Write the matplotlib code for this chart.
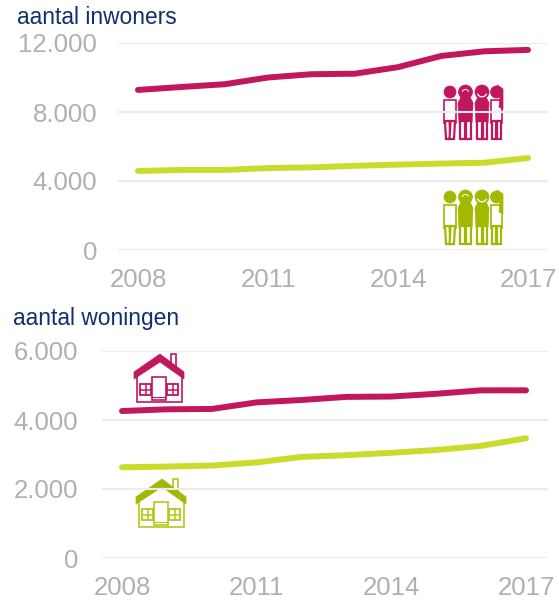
import matplotlib
matplotlib.use("Agg")
import matplotlib.pyplot as plt
from matplotlib.patches import Circle, Polygon, Rectangle, Wedge

plt.rcParams['font.family'] = ['Liberation Sans', 'DejaVu Sans']

W = 559
H = 605
PINK = "#c0175d"
GREEN = "#c9dc2b"
ICON_GREEN = "#a3b800"
HOUSE_GREEN = "#b3c81a"
GRID = "#ececec"
TICK = "#b0b0b0"
NAVY = "#0f2f6f"

years = [2008, 2009, 2010, 2011, 2012, 2013, 2014, 2015, 2016, 2017]
year_ticks = [2008, 2011, 2014, 2017]

inwoners_pink = [9280, 9450, 9610, 10000, 10190, 10220, 10600, 11250, 11520, 11600]
inwoners_green = [4580, 4640, 4640, 4750, 4790, 4880, 4950, 5010, 5060, 5330]
inwoners_ticks = [0, 4000, 8000, 12000]
inwoners_labels = ["0", "4.000", "8.000", "12.000"]

woningen_pink = [4260, 4310, 4320, 4510, 4580, 4670, 4680, 4760, 4860, 4860]
woningen_green = [2630, 2650, 2680, 2770, 2930, 2980, 3050, 3130, 3250, 3470]
woningen_ticks = [0, 2000, 4000, 6000]
woningen_labels = ["0", "2.000", "4.000", "6.000"]


def px_axes(fig, left, top, right, bottom):
    return fig.add_axes([left / W, 1 - bottom / H, (right - left) / W, (bottom - top) / H])


def draw_panel(ax, pink, green, ticks, labels, ymax, x0, x1, xpad, ypad):
    ax.patch.set_alpha(0)
    ax.set_xlim(x0, x1)
    ax.set_ylim(0, ymax)
    for t in ticks:
        ax.axhline(t, color=GRID, lw=1.5, zorder=1)
    ax.plot(years, pink, color=PINK, lw=4.3, solid_capstyle="round", solid_joinstyle="round", zorder=3)
    ax.plot(years, green, color=GREEN, lw=4.3, solid_capstyle="round", solid_joinstyle="round", zorder=3)
    for s in ax.spines.values():
        s.set_visible(False)
    ax.set_yticks(ticks)
    ax.set_yticklabels(labels)
    ax.set_xticks(year_ticks)
    ax.set_xticklabels([str(y) for y in year_ticks])
    ax.tick_params(length=0, labelsize=18.5, labelcolor=TICK)
    ax.tick_params(axis="x", pad=xpad)
    ax.tick_params(axis="y", pad=ypad)


def legs(ov, x, w, top, color, lean=0):
    # two trouser legs, outlined, with a white stripe in each
    y0 = top + 36
    y1 = top + 54
    mid = x + w / 2
    for a, b, shift in ((x + 1, mid - 0.5, -lean), (mid + 0.5, x + w - 1, lean)):
        ov.add_patch(Polygon([(a, y0), (b, y0), (b + shift, y1), (a + shift, y1)], closed=True,
                             fc="white", ec=color, lw=1.6))


def person_open(ov, x, w, top, color, lean=0):
    ov.add_patch(Circle((x + w / 2, top + 7), 6, fc=color, ec=color, lw=0.5))
    ov.add_patch(Rectangle((x, top + 15), w, 23, fc="white", ec=color, lw=1.2))
    legs(ov, x, w, top, color, lean)


def person_filled(ov, x, w, top, color, band=False):
    ov.add_patch(Circle((x + w / 2, top + 7), 7, fc=color, ec=color, lw=0.5))
    body = [(x + 1, top + 38), (x, top + 18), (x + 3, top + 12), (x + w - 3, top + 12), (x + w, top + 18), (x + w - 1, top + 38)]
    ov.add_patch(Polygon(body, closed=True, fc=color, ec=color, lw=0.5))
    if band:
        ov.add_patch(Wedge((x + w / 2, top + 7), 5.5, 20, 160, width=1.3, fc="white", ec="none"))
    else:
        ov.add_patch(Wedge((x + w / 2, top + 8), 4, 200, 340, width=1, fc="white", ec="none"))
    legs(ov, x + 1, w - 2, top, color)


def crowd(ov, top, color):
    person_open(ov, 444, 12, top, color, lean=-1)
    person_filled(ov, 458, 15, top, color)
    person_filled(ov, 475, 14, top, color, band=True)
    person_open(ov, 491, 11, top, color)
    # long hair of the last figure
    ov.add_patch(Polygon([(497, top), (503, top + 4), (503, top + 24), (499, top + 22), (500, top + 12)],
                         closed=True, fc=color, ec=color, lw=0.5))


def house(ov, x, y, color, roof_color):
    # x, y is the upper left corner of the icon box, about 50 x 48 px
    ov.add_patch(Rectangle((x + 37, y), 5, 12, fc="white", ec=color, lw=1.2))
    ov.add_patch(Polygon([(x + 3, y + 22), (x + 3, y + 48), (x + 48, y + 48), (x + 48, y + 22)],
                         closed=False, fc="white", ec=color, lw=1.2))
    roof = [(x, y + 18), (x + 26, y), (x + 50, y + 18), (x + 50, y + 25), (x + 26, y + 8), (x, y + 25)]
    ov.add_patch(Polygon(roof, closed=True, fc=roof_color, ec=roof_color, lw=0.5))
    ov.add_patch(Rectangle((x + 18, y + 23), 14, 23, fc="white", ec=color, lw=1.2))
    ov.plot([x + 18, x + 32], [y + 43, y + 43], color=color, lw=0.8)
    for wx in (x + 6, x + 33):
        ov.add_patch(Rectangle((wx, y + 30), 11, 11, fc="white", ec=color, lw=1.3))
        ov.plot([wx + 5.5, wx + 5.5], [y + 30, y + 41], color=color, lw=1.1)
        ov.plot([wx, wx + 11], [y + 35.5, y + 35.5], color=color, lw=1.1)


fig = plt.figure(figsize=(W / 100, H / 100), dpi=100)

# icons sit underneath the chart axes, the gridline runs over them
ov = fig.add_axes([0, 0, 1, 1], zorder=0)
ov.set_xlim(0, W)
ov.set_ylim(H, 0)
ov.axis("off")
crowd(ov, 85, PINK)
crowd(ov, 190, ICON_GREEN)
house(ov, 134, 354, PINK, PINK)
house(ov, 136, 479, HOUSE_GREEN, ICON_GREEN)

# pixel span of the plot area, with 2008 and 2017 placed by the x limits
top_ax = px_axes(fig, 118, 43, 548, 250)
top_ax.set_zorder(1)
per_year = (528 - 138) / 9
draw_panel(top_ax, inwoners_pink, inwoners_green, inwoners_ticks, inwoners_labels, 12000,
           2008 - (138 - 118) / per_year, 2017 + (548 - 528) / per_year, 13, 15)

bot_ax = px_axes(fig, 102, 351, 548, 558)
bot_ax.set_zorder(1)
per_year = (526 - 122) / 9
draw_panel(bot_ax, woningen_pink, woningen_green, woningen_ticks, woningen_labels, 6000,
           2008 - (122 - 102) / per_year, 2017 + (548 - 526) / per_year, 13, 17)

fig.text(17 / W, 1 - 17 / H, "aantal inwoners", color=NAVY, fontsize=16.4, va="center")
fig.text(13 / W, 1 - 319 / H, "aantal woningen", color=NAVY, fontsize=16.4, va="center")

fig.savefig("out.png", dpi=100)
